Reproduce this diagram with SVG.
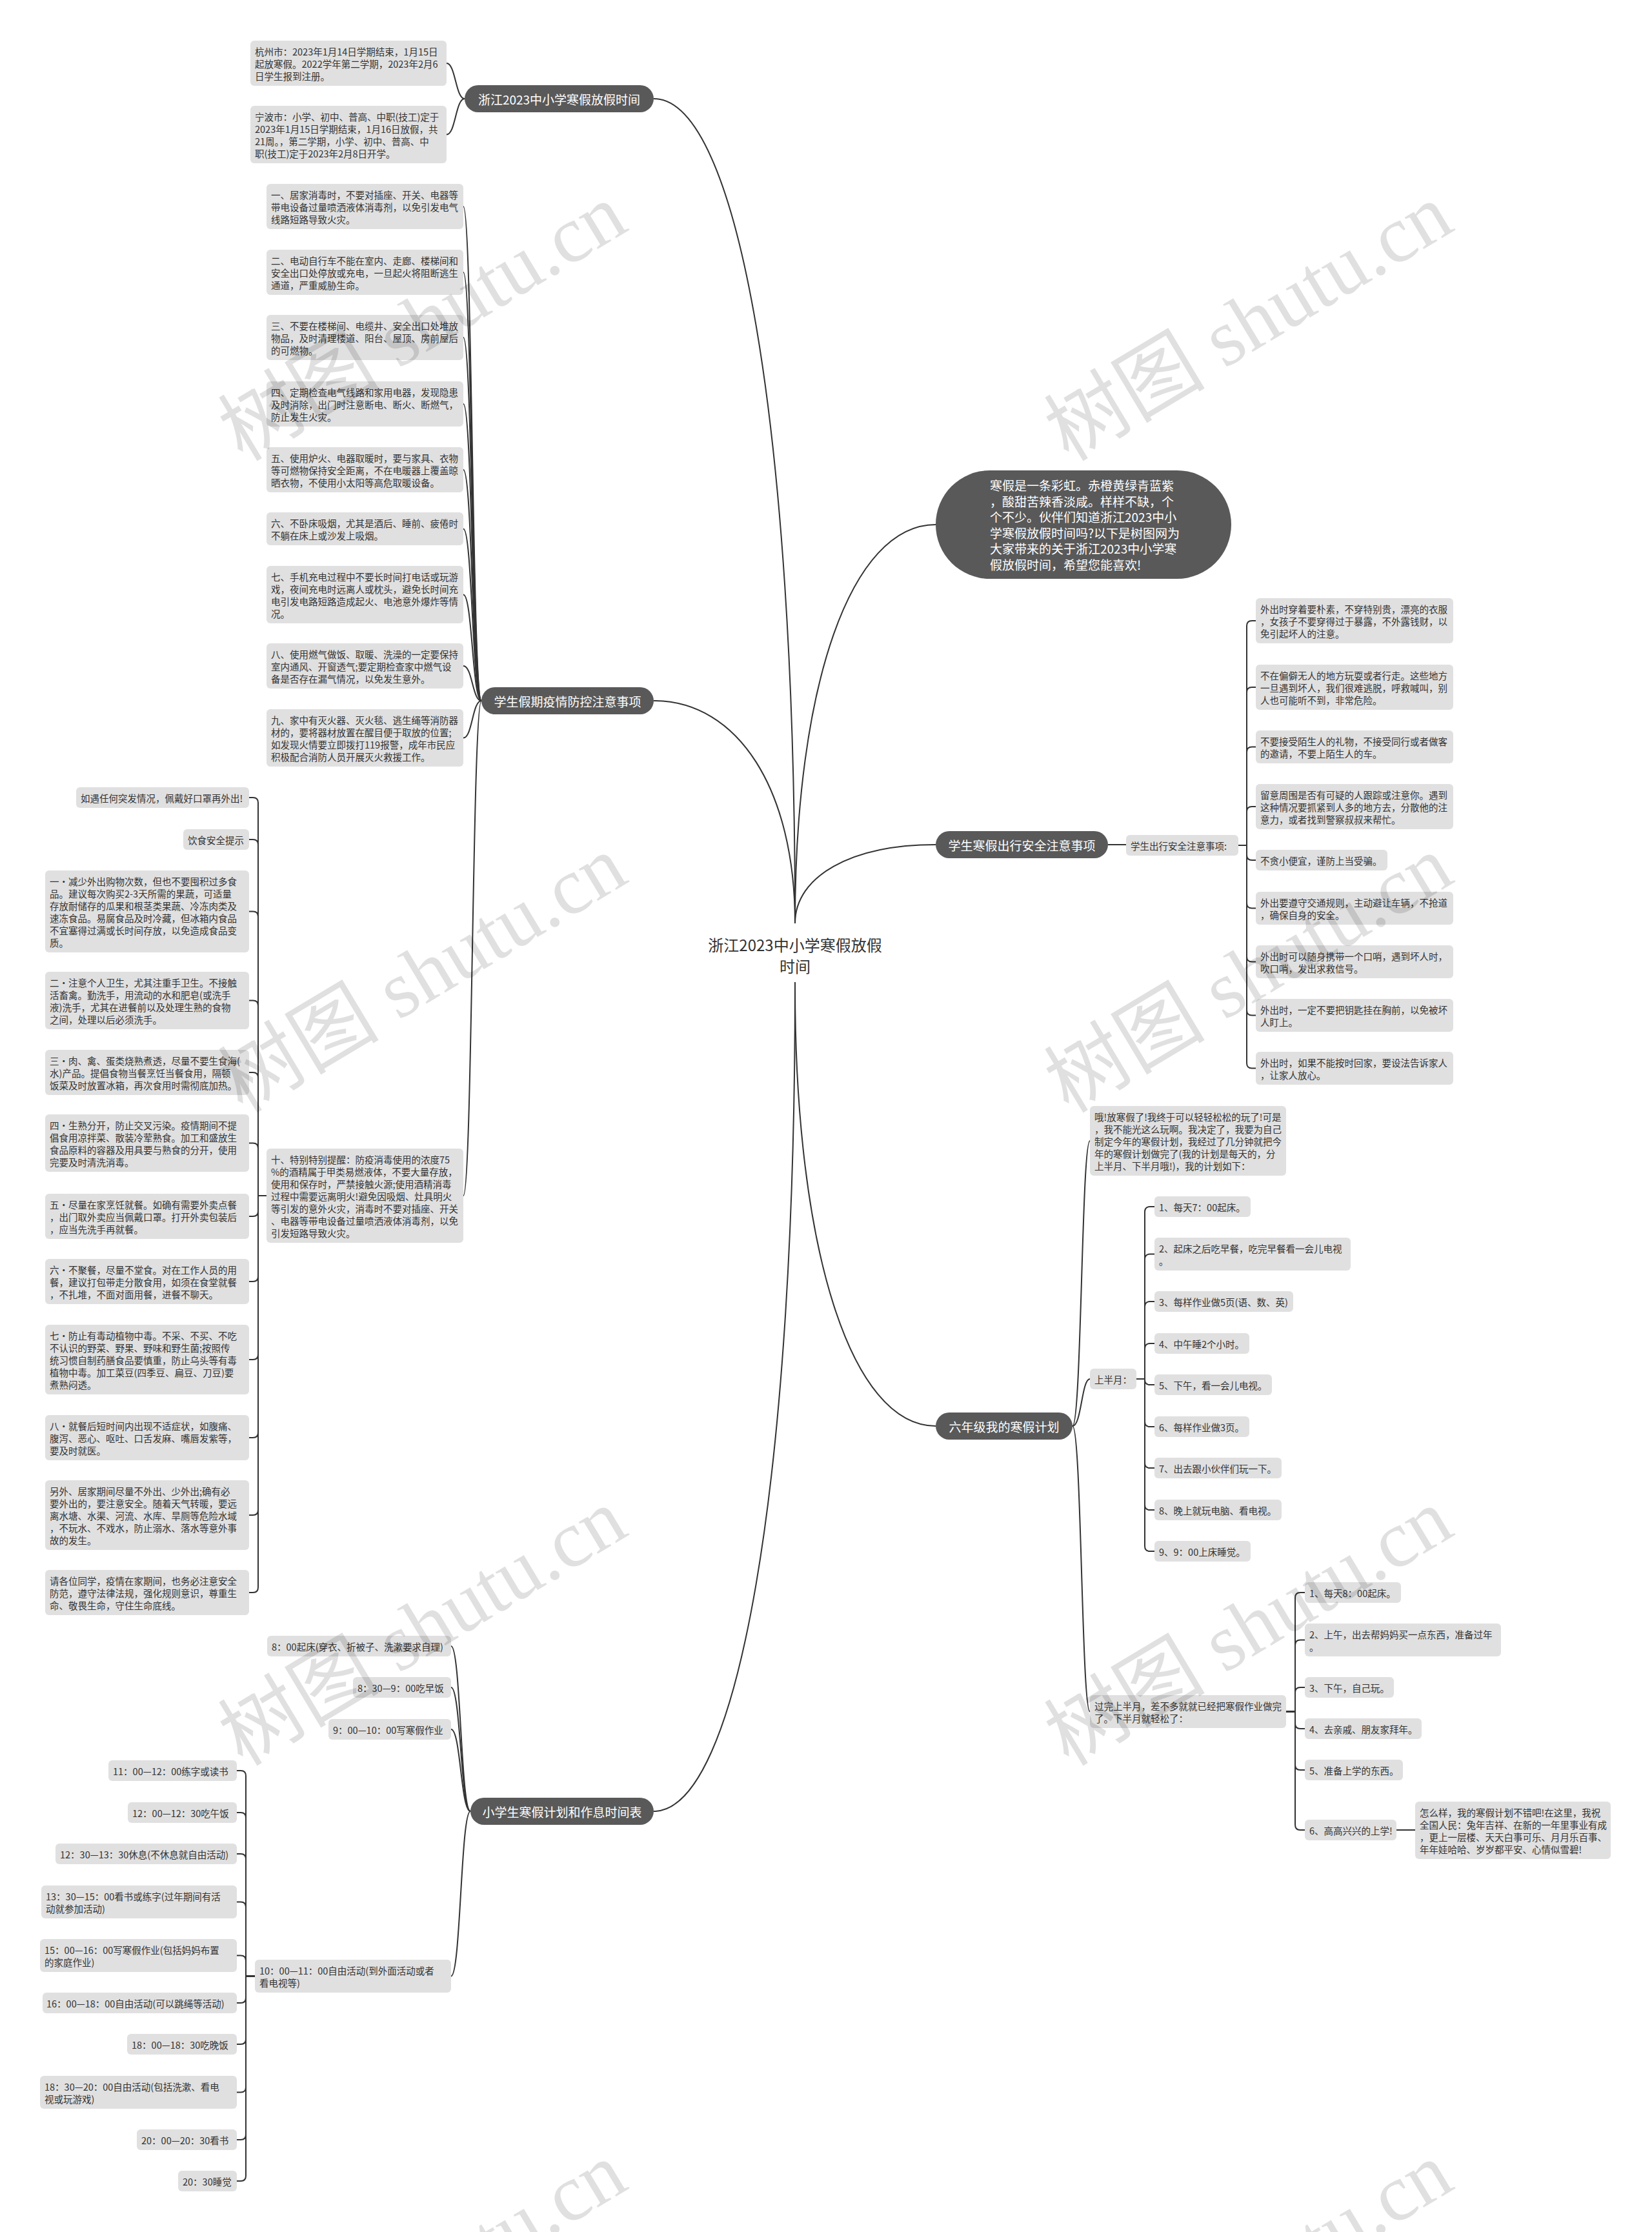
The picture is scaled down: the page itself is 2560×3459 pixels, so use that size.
<svg xmlns="http://www.w3.org/2000/svg" width="2560" height="3459" viewBox="0 0 2560 3459">
<style>
.n rect{fill:#e0e0e0}
.n text{font-family:"Noto Sans CJK SC","Liberation Sans",sans-serif;font-size:14.5px;fill:#333;dominant-baseline:central}
.p rect{fill:#595959}
.p text{font-family:"Noto Sans CJK SC","Liberation Sans",sans-serif;font-size:19px;fill:#fff;dominant-baseline:central;text-anchor:middle}
.c path{fill:none;stroke:#333;stroke-width:2}
.root text{font-family:"Noto Sans CJK SC","Liberation Sans",sans-serif;font-size:24px;fill:#333;dominant-baseline:central;text-anchor:middle}
.wm text{font-family:"Liberation Serif","Noto Sans CJK SC",serif;font-size:125px;fill:#000;fill-opacity:0.12;dominant-baseline:central;text-anchor:middle}
</style>
<rect width="2560" height="3459" fill="#fff"/>

<g class="c" id="connectors">
<path d="M1232,1431 C1232,664 1144,153 1013,153"/>
<path d="M1232,1431 C1232,1224 1144,1086 1013,1086"/>
<path d="M1232,1431 C1232,1060 1319,813 1450,813"/>
<path d="M1232,1431 C1232,1358 1319,1309 1450,1309"/>
<path d="M1232,1528 C1232,1937 1319,2210 1450,2210"/>
<path d="M1232,1528 C1232,2295 1144,2807 1013,2807"/>
<path d="M1232,1522 V1540"/>
<path d="M720,153 C706,153 706,98 692,98"/>
<path d="M720,153 C706,153 706,208.5 692,208.5"/>
<path d="M746,1086 C732,1086 732,320 718,320"/>
<path d="M746,1086 C732,1086 732,422 718,422"/>
<path d="M746,1086 C732,1086 732,523 718,523"/>
<path d="M746,1086 C732,1086 732,626 718,626"/>
<path d="M746,1086 C732,1086 732,728 718,728"/>
<path d="M746,1086 C732,1086 732,819.5 718,819.5"/>
<path d="M746,1086 C732,1086 732,921.5 718,921.5"/>
<path d="M746,1086 C732,1086 732,1032 718,1032"/>
<path d="M746,1086 C732,1086 732,1143.5 718,1143.5"/>
<path d="M746,1086 C732,1086 732,1853 718,1853"/>
<path d="M413,1853 H400 V1244 Q400,1236 392,1236 H386"/>
<path d="M413,1853 H400 V1309 Q400,1301 392,1301 H386"/>
<path d="M413,1853 H400 V1420.5 Q400,1412.5 392,1412.5 H386"/>
<path d="M413,1853 H400 V1558.5 Q400,1550.5 392,1550.5 H386"/>
<path d="M413,1853 H400 V1670 Q400,1662 392,1662 H386"/>
<path d="M413,1853 H400 V1779.5 Q400,1771.5 392,1771.5 H386"/>
<path d="M413,1853 H400 V1877 Q400,1885 392,1885 H386"/>
<path d="M413,1853 H400 V1978 Q400,1986 392,1986 H386"/>
<path d="M413,1853 H400 V2099 Q400,2107 392,2107 H386"/>
<path d="M413,1853 H400 V2220 Q400,2228 392,2228 H386"/>
<path d="M413,1853 H400 V2340 Q400,2348 392,2348 H386"/>
<path d="M413,1853 H400 V2460 Q400,2468 392,2468 H386"/>
<path d="M729,2807 C714,2807 714,2551 699,2551"/>
<path d="M729,2807 C714,2807 714,2615 699,2615"/>
<path d="M729,2807 C714,2807 714,2680 699,2680"/>
<path d="M729,2807 C714,2807 714,3062.5 699,3062.5"/>
<path d="M395,3062.5 H381 V2752 Q381,2744 373,2744 H367"/>
<path d="M395,3062.5 H381 V2817 Q381,2809 373,2809 H367"/>
<path d="M395,3062.5 H381 V2881 Q381,2873 373,2873 H367"/>
<path d="M395,3062.5 H381 V2955.5 Q381,2947.5 373,2947.5 H367"/>
<path d="M395,3062.5 H381 V3038.5 Q381,3030.5 373,3030.5 H367"/>
<path d="M395,3062.5 H381 V3096 Q381,3104 373,3104 H367"/>
<path d="M395,3062.5 H381 V3160 Q381,3168 373,3168 H367"/>
<path d="M395,3062.5 H381 V3234.5 Q381,3242.5 373,3242.5 H367"/>
<path d="M395,3062.5 H381 V3308 Q381,3316 373,3316 H367"/>
<path d="M395,3062.5 H381 V3372 Q381,3380 373,3380 H367"/>
<path d="M1717,1309 H1745"/>
<path d="M1919,1310 H1932 V970 Q1932,962 1940,962 H1946"/>
<path d="M1919,1310 H1932 V1073 Q1932,1065 1940,1065 H1946"/>
<path d="M1919,1310 H1932 V1165.5 Q1932,1157.5 1940,1157.5 H1946"/>
<path d="M1919,1310 H1932 V1258 Q1932,1250 1940,1250 H1946"/>
<path d="M1919,1310 H1932 V1325 Q1932,1333 1940,1333 H1946"/>
<path d="M1919,1310 H1932 V1399.5 Q1932,1407.5 1940,1407.5 H1946"/>
<path d="M1919,1310 H1932 V1482.5 Q1932,1490.5 1940,1490.5 H1946"/>
<path d="M1919,1310 H1932 V1565.5 Q1932,1573.5 1940,1573.5 H1946"/>
<path d="M1919,1310 H1932 V1647.5 Q1932,1655.5 1940,1655.5 H1946"/>
<path d="M1662,2210 C1676,2210 1676,1768 1689,1768"/>
<path d="M1662,2210 C1676,2210 1676,2137 1689,2137"/>
<path d="M1662,2210 C1676,2210 1676,2652.5 1689,2652.5"/>
<path d="M1761,2137 H1774 V1878 Q1774,1870 1782,1870 H1789"/>
<path d="M1761,2137 H1774 V1951.5 Q1774,1943.5 1782,1943.5 H1789"/>
<path d="M1761,2137 H1774 V2025 Q1774,2017 1782,2017 H1789"/>
<path d="M1761,2137 H1774 V2090 Q1774,2082 1782,2082 H1789"/>
<path d="M1761,2137 H1774 V2138 Q1774,2146 1782,2146 H1789"/>
<path d="M1761,2137 H1774 V2203 Q1774,2211 1782,2211 H1789"/>
<path d="M1761,2137 H1774 V2267 Q1774,2275 1782,2275 H1789"/>
<path d="M1761,2137 H1774 V2332 Q1774,2340 1782,2340 H1789"/>
<path d="M1761,2137 H1774 V2396 Q1774,2404 1782,2404 H1789"/>
<path d="M1993,2652.5 H2007 V2476 Q2007,2468 2015,2468 H2022"/>
<path d="M1993,2652.5 H2007 V2549.5 Q2007,2541.5 2015,2541.5 H2022"/>
<path d="M1993,2652.5 H2007 V2623 Q2007,2615 2015,2615 H2022"/>
<path d="M1993,2652.5 H2007 V2671 Q2007,2679 2015,2679 H2022"/>
<path d="M1993,2652.5 H2007 V2735 Q2007,2743 2015,2743 H2022"/>
<path d="M1993,2652.5 H2007 V2828 Q2007,2836 2015,2836 H2022"/>
<path d="M2164,2836 H2193"/>
</g>

<g id="root" class="root">
<rect x="1080" y="1440" width="304" height="78" fill="#fff"/>
<text><tspan x="1232" y="1463">浙江2023中小学寒假放假</tspan><tspan x="1232" y="1496">时间</tspan></text>
</g>

<g id="branch-a" class="p"><rect x="720" y="132" width="293" height="42" rx="21"/><text x="866.5" y="153">浙江2023中小学寒假放假时间</text></g>
<g id="a1" class="n"><rect x="388" y="63" width="304" height="70" rx="6"/><text><tspan x="395" y="79">杭州市：2023年1月14日学期结束，1月15日</tspan><tspan x="395" y="98">起放寒假。2022学年第二学期，2023年2月6</tspan><tspan x="395" y="117">日学生报到注册。</tspan></text></g>
<g id="a2" class="n"><rect x="388" y="164" width="304" height="89" rx="6"/><text><tspan x="395" y="180">宁波市：小学、初中、普高、中职(技工)定于</tspan><tspan x="395" y="199">2023年1月15日学期结束，1月16日放假，共</tspan><tspan x="395" y="218">21周。，第二学期，小学、初中、普高、中</tspan><tspan x="395" y="237">职(技工)定于2023年2月8日开学。</tspan></text></g>

<g id="branch-b" class="p"><rect x="746" y="1065" width="267" height="42" rx="21"/><text x="879.5" y="1086">学生假期疫情防控注意事项</text></g>
<g id="b1" class="n"><rect x="413" y="285" width="305" height="70" rx="6"/><text><tspan x="420" y="301">一、居家消毒时，不要对插座、开关、电器等</tspan><tspan x="420" y="320">带电设备过量喷洒液体消毒剂，以免引发电气</tspan><tspan x="420" y="339">线路短路导致火灾。</tspan></text></g>
<g id="b2" class="n"><rect x="413" y="387" width="305" height="70" rx="6"/><text><tspan x="420" y="403">二、电动自行车不能在室内、走廊、楼梯间和</tspan><tspan x="420" y="422">安全出口处停放或充电，一旦起火将阻断逃生</tspan><tspan x="420" y="441">通道，严重威胁生命。</tspan></text></g>
<g id="b3" class="n"><rect x="413" y="488" width="305" height="70" rx="6"/><text><tspan x="420" y="504">三、不要在楼梯间、电缆井、安全出口处堆放</tspan><tspan x="420" y="523">物品，及时清理楼道、阳台、屋顶、房前屋后</tspan><tspan x="420" y="542">的可燃物。</tspan></text></g>
<g id="b4" class="n"><rect x="413" y="591" width="305" height="70" rx="6"/><text><tspan x="420" y="607">四、定期检查电气线路和家用电器，发现隐患</tspan><tspan x="420" y="626">及时消除，出门时注意断电、断火、断燃气，</tspan><tspan x="420" y="645">防止发生火灾。</tspan></text></g>
<g id="b5" class="n"><rect x="413" y="693" width="305" height="70" rx="6"/><text><tspan x="420" y="709">五、使用炉火、电器取暖时，要与家具、衣物</tspan><tspan x="420" y="728">等可燃物保持安全距离，不在电暖器上覆盖晾</tspan><tspan x="420" y="747">晒衣物，不使用小太阳等高危取暖设备。</tspan></text></g>
<g id="b6" class="n"><rect x="413" y="794" width="305" height="51" rx="6"/><text><tspan x="420" y="810">六、不卧床吸烟，尤其是酒后、睡前、疲倦时</tspan><tspan x="420" y="829">不躺在床上或沙发上吸烟。</tspan></text></g>
<g id="b7" class="n"><rect x="413" y="877" width="305" height="89" rx="6"/><text><tspan x="420" y="893">七、手机充电过程中不要长时间打电话或玩游</tspan><tspan x="420" y="912">戏，夜间充电时远离人或枕头，避免长时间充</tspan><tspan x="420" y="931">电引发电路短路造成起火、电池意外爆炸等情</tspan><tspan x="420" y="950">况。</tspan></text></g>
<g id="b8" class="n"><rect x="413" y="997" width="305" height="70" rx="6"/><text><tspan x="420" y="1013">八、使用燃气做饭、取暖、洗澡的一定要保持</tspan><tspan x="420" y="1032">室内通风、开窗透气;要定期检查家中燃气设</tspan><tspan x="420" y="1051">备是否存在漏气情况，以免发生意外。</tspan></text></g>
<g id="b9" class="n"><rect x="413" y="1099" width="305" height="89" rx="6"/><text><tspan x="420" y="1115">九、家中有灭火器、灭火毯、逃生绳等消防器</tspan><tspan x="420" y="1134">材的，要将器材放置在醒目便于取放的位置;</tspan><tspan x="420" y="1153">如发现火情要立即拨打119报警，成年市民应</tspan><tspan x="420" y="1172">积极配合消防人员开展灭火救援工作。</tspan></text></g>
<g id="b10" class="n"><rect x="413" y="1780" width="305" height="146" rx="6"/><text><tspan x="420" y="1796">十、特别特别提醒：防疫消毒使用的浓度75</tspan><tspan x="420" y="1815">%的酒精属于甲类易燃液体，不要大量存放，</tspan><tspan x="420" y="1834">使用和保存时，严禁接触火源;使用酒精消毒</tspan><tspan x="420" y="1853">过程中需要远离明火!避免因吸烟、灶具明火</tspan><tspan x="420" y="1872">等引发的意外火灾，消毒时不要对插座、开关</tspan><tspan x="420" y="1891">、电器等带电设备过量喷洒液体消毒剂，以免</tspan><tspan x="420" y="1910">引发短路导致火灾。</tspan></text></g>

<g id="c1" class="n"><rect x="118" y="1220" width="268" height="32" rx="6"/><text x="125" y="1236">如遇任何突发情况，佩戴好口罩再外出!</text></g>
<g id="c2" class="n"><rect x="284" y="1285" width="102" height="32" rx="6"/><text x="291" y="1301">饮食安全提示</text></g>
<g id="c3" class="n"><rect x="70" y="1349" width="316" height="127" rx="6"/><text><tspan x="77" y="1365">一·减少外出购物次数，但也不要囤积过多食</tspan><tspan x="77" y="1384">品。建议每次购买2-3天所需的果蔬，可适量</tspan><tspan x="77" y="1403">存放耐储存的瓜果和根茎类果蔬、冷冻肉类及</tspan><tspan x="77" y="1422">速冻食品。易腐食品及时冷藏，但冰箱内食品</tspan><tspan x="77" y="1441">不宜塞得过满或长时间存放，以免造成食品变</tspan><tspan x="77" y="1460">质。</tspan></text></g>
<g id="c4" class="n"><rect x="70" y="1506" width="316" height="89" rx="6"/><text><tspan x="77" y="1522">二·注意个人卫生，尤其注重手卫生。不接触</tspan><tspan x="77" y="1541">活畜禽。勤洗手，用流动的水和肥皂(或洗手</tspan><tspan x="77" y="1560">液)洗手，尤其在进餐前以及处理生熟的食物</tspan><tspan x="77" y="1579">之间，处理以后必须洗手。</tspan></text></g>
<g id="c5" class="n"><rect x="70" y="1627" width="316" height="70" rx="6"/><text><tspan x="77" y="1643">三·肉、禽、蛋类烧熟煮透，尽量不要生食海(</tspan><tspan x="77" y="1662">水)产品。提倡食物当餐烹饪当餐食用，隔顿</tspan><tspan x="77" y="1681">饭菜及时放置冰箱，再次食用时需彻底加热。</tspan></text></g>
<g id="c6" class="n"><rect x="70" y="1727" width="316" height="89" rx="6"/><text><tspan x="77" y="1743">四·生熟分开，防止交叉污染。疫情期间不提</tspan><tspan x="77" y="1762">倡食用凉拌菜、散装冷荤熟食。加工和盛放生</tspan><tspan x="77" y="1781">食品原料的容器及用具要与熟食的分开，使用</tspan><tspan x="77" y="1800">完要及时清洗消毒。</tspan></text></g>
<g id="c7" class="n"><rect x="70" y="1850" width="316" height="70" rx="6"/><text><tspan x="77" y="1866">五·尽量在家烹饪就餐。如确有需要外卖点餐</tspan><tspan x="77" y="1885">，出门取外卖应当佩戴口罩。打开外卖包装后</tspan><tspan x="77" y="1904">，应当先洗手再就餐。</tspan></text></g>
<g id="c8" class="n"><rect x="70" y="1951" width="316" height="70" rx="6"/><text><tspan x="77" y="1967">六·不聚餐，尽量不堂食。对在工作人员的用</tspan><tspan x="77" y="1986">餐，建议打包带走分散食用，如须在食堂就餐</tspan><tspan x="77" y="2005">，不扎堆，不面对面用餐，进餐不聊天。</tspan></text></g>
<g id="c9" class="n"><rect x="70" y="2053" width="316" height="108" rx="6"/><text><tspan x="77" y="2069">七·防止有毒动植物中毒。不采、不买、不吃</tspan><tspan x="77" y="2088">不认识的野菜、野果、野味和野生菌;按照传</tspan><tspan x="77" y="2107">统习惯自制药膳食品要慎重，防止乌头等有毒</tspan><tspan x="77" y="2126">植物中毒。加工菜豆(四季豆、扁豆、刀豆)要</tspan><tspan x="77" y="2145">煮熟闷透。</tspan></text></g>
<g id="c10" class="n"><rect x="70" y="2193" width="316" height="70" rx="6"/><text><tspan x="77" y="2209">八·就餐后短时间内出现不适症状，如腹痛、</tspan><tspan x="77" y="2228">腹泻、恶心、呕吐、口舌发麻、嘴唇发紫等，</tspan><tspan x="77" y="2247">要及时就医。</tspan></text></g>
<g id="c11" class="n"><rect x="70" y="2294" width="316" height="108" rx="6"/><text><tspan x="77" y="2310">另外、居家期间尽量不外出、少外出;确有必</tspan><tspan x="77" y="2329">要外出的，要注意安全。随着天气转暖，要远</tspan><tspan x="77" y="2348">离水塘、水渠、河流、水库、旱厕等危险水域</tspan><tspan x="77" y="2367">，不玩水、不戏水，防止溺水、落水等意外事</tspan><tspan x="77" y="2386">故的发生。</tspan></text></g>
<g id="c12" class="n"><rect x="70" y="2433" width="316" height="70" rx="6"/><text><tspan x="77" y="2449">请各位同学，疫情在家期间，也务必注意安全</tspan><tspan x="77" y="2468">防范，遵守法律法规，强化规则意识，尊重生</tspan><tspan x="77" y="2487">命、敬畏生命，守住生命底线。</tspan></text></g>

<g id="branch-d" class="p"><rect x="729" y="2786" width="284" height="42" rx="21"/><text x="871" y="2807">小学生寒假计划和作息时间表</text></g>
<g id="d1" class="n"><rect x="414" y="2535" width="285" height="32" rx="6"/><text x="421" y="2551">8：00起床(穿衣、折被子、洗漱要求自理)</text></g>
<g id="d2" class="n"><rect x="547" y="2599" width="152" height="32" rx="6"/><text x="554" y="2615">8：30—9：00吃早饭</text></g>
<g id="d3" class="n"><rect x="509" y="2664" width="190" height="32" rx="6"/><text x="516" y="2680">9：00—10：00写寒假作业</text></g>
<g id="d4" class="n"><rect x="395" y="3037" width="304" height="51" rx="6"/><text><tspan x="402" y="3053">10：00—11：00自由活动(到外面活动或者</tspan><tspan x="402" y="3072">看电视等)</tspan></text></g>
<g id="e1" class="n"><rect x="168" y="2728" width="199" height="32" rx="6"/><text x="175" y="2744">11：00—12：00练字或读书</text></g>
<g id="e2" class="n"><rect x="198" y="2793" width="169" height="32" rx="6"/><text x="205" y="2809">12：00—12：30吃午饭</text></g>
<g id="e3" class="n"><rect x="86" y="2857" width="281" height="32" rx="6"/><text x="93" y="2873">12：30—13：30休息(不休息就自由活动)</text></g>
<g id="e4" class="n"><rect x="64" y="2922" width="303" height="51" rx="6"/><text><tspan x="71" y="2938">13：30—15：00看书或练字(过年期间有活</tspan><tspan x="71" y="2957">动就参加活动)</tspan></text></g>
<g id="e5" class="n"><rect x="62" y="3005" width="305" height="51" rx="6"/><text><tspan x="69" y="3021">15：00—16：00写寒假作业(包括妈妈布置</tspan><tspan x="69" y="3040">的家庭作业)</tspan></text></g>
<g id="e6" class="n"><rect x="66" y="3088" width="301" height="32" rx="6"/><text x="72" y="3104">16：00—18：00自由活动(可以跳绳等活动)</text></g>
<g id="e7" class="n"><rect x="197" y="3152" width="170" height="32" rx="6"/><text x="204" y="3168">18：00—18：30吃晚饭</text></g>
<g id="e8" class="n"><rect x="62" y="3217" width="305" height="51" rx="6"/><text><tspan x="69" y="3233">18：30—20：00自由活动(包括洗漱、看电</tspan><tspan x="69" y="3252">视或玩游戏)</tspan></text></g>
<g id="e9" class="n"><rect x="212" y="3300" width="155" height="32" rx="6"/><text x="219" y="3316">20：00—20：30看书</text></g>
<g id="e10" class="n"><rect x="276" y="3364" width="91" height="32" rx="6"/><text x="283" y="3380">20：30睡觉</text></g>

<g id="intro" class="p"><rect x="1450" y="729" width="458" height="168" rx="84"/><text style="text-anchor:start"><tspan x="1534" y="751">寒假是一条彩虹。赤橙黄绿青蓝紫</tspan><tspan x="1534" y="775.6">，酸甜苦辣香淡咸。样样不缺，个</tspan><tspan x="1534" y="800.2">个不少。伙伴们知道浙江2023中小</tspan><tspan x="1534" y="824.8">学寒假放假时间吗?以下是树图网为</tspan><tspan x="1534" y="849.4">大家带来的关于浙江2023中小学寒</tspan><tspan x="1534" y="874">假放假时间，希望您能喜欢!</tspan></text></g>

<g id="branch-f" class="p"><rect x="1450" y="1288" width="267" height="42" rx="21"/><text x="1583.5" y="1309">学生寒假出行安全注意事项</text></g>
<g id="f0" class="n"><rect x="1745" y="1294" width="174" height="32" rx="6"/><text x="1752" y="1310">学生出行安全注意事项:</text></g>
<g id="g1" class="n"><rect x="1946" y="927" width="306" height="70" rx="6"/><text><tspan x="1953" y="943">外出时穿着要朴素，不穿特别贵，漂亮的衣服</tspan><tspan x="1953" y="962">，女孩子不要穿得过于暴露，不外露钱财，以</tspan><tspan x="1953" y="981">免引起坏人的注意。</tspan></text></g>
<g id="g2" class="n"><rect x="1946" y="1030" width="306" height="70" rx="6"/><text><tspan x="1953" y="1046">不在偏僻无人的地方玩耍或者行走。这些地方</tspan><tspan x="1953" y="1065">一旦遇到坏人，我们很难逃脱，呼救喊叫，别</tspan><tspan x="1953" y="1084">人也可能听不到，非常危险。</tspan></text></g>
<g id="g3" class="n"><rect x="1946" y="1132" width="306" height="51" rx="6"/><text><tspan x="1953" y="1148">不要接受陌生人的礼物，不接受同行或者做客</tspan><tspan x="1953" y="1167">的邀请，不要上陌生人的车。</tspan></text></g>
<g id="g4" class="n"><rect x="1946" y="1215" width="306" height="70" rx="6"/><text><tspan x="1953" y="1231">留意周围是否有可疑的人跟踪或注意你。遇到</tspan><tspan x="1953" y="1250">这种情况要抓紧到人多的地方去，分散他的注</tspan><tspan x="1953" y="1269">意力，或者找到警察叔叔来帮忙。</tspan></text></g>
<g id="g5" class="n"><rect x="1946" y="1317" width="204" height="32" rx="6"/><text x="1953" y="1333">不贪小便宜，谨防上当受骗。</text></g>
<g id="g6" class="n"><rect x="1946" y="1382" width="306" height="51" rx="6"/><text><tspan x="1953" y="1398">外出要遵守交通规则，主动避让车辆，不抢道</tspan><tspan x="1953" y="1417">，确保自身的安全。</tspan></text></g>
<g id="g7" class="n"><rect x="1946" y="1465" width="306" height="51" rx="6"/><text><tspan x="1953" y="1481">外出时可以随身携带一个口哨，遇到坏人时，</tspan><tspan x="1953" y="1500">吹口哨，发出求救信号。</tspan></text></g>
<g id="g8" class="n"><rect x="1946" y="1548" width="306" height="51" rx="6"/><text><tspan x="1953" y="1564">外出时，一定不要把钥匙挂在胸前，以免被坏</tspan><tspan x="1953" y="1583">人盯上。</tspan></text></g>
<g id="g9" class="n"><rect x="1946" y="1630" width="306" height="51" rx="6"/><text><tspan x="1953" y="1646">外出时，如果不能按时回家，要设法告诉家人</tspan><tspan x="1953" y="1665">，让家人放心。</tspan></text></g>

<g id="branch-h" class="p"><rect x="1450" y="2189" width="212" height="42" rx="21"/><text x="1556" y="2210">六年级我的寒假计划</text></g>
<g id="h1" class="n"><rect x="1689" y="1714" width="304" height="108" rx="6"/><text><tspan x="1696" y="1730">哦!放寒假了!我终于可以轻轻松松的玩了!可是</tspan><tspan x="1696" y="1749">，我不能光这么玩啊。我决定了，我要为自己</tspan><tspan x="1696" y="1768">制定今年的寒假计划，我经过了几分钟就把今</tspan><tspan x="1696" y="1787">年的寒假计划做完了(我的计划是每天的，分</tspan><tspan x="1696" y="1806">上半月、下半月哦!)，我的计划如下：</tspan></text></g>
<g id="h2" class="n"><rect x="1689" y="2121" width="72" height="32" rx="6"/><text x="1696" y="2137">上半月：</text></g>
<g id="i1" class="n"><rect x="1789" y="1854" width="149" height="32" rx="6"/><text x="1796" y="1870">1、每天7：00起床。</text></g>
<g id="i2" class="n"><rect x="1789" y="1918" width="304" height="51" rx="6"/><text><tspan x="1796" y="1934">2、起床之后吃早餐，吃完早餐看一会儿电视</tspan><tspan x="1796" y="1953">。</tspan></text></g>
<g id="i3" class="n"><rect x="1789" y="2001" width="215" height="32" rx="6"/><text x="1796" y="2017">3、每样作业做5页(语、数、英)</text></g>
<g id="i4" class="n"><rect x="1789" y="2066" width="147" height="32" rx="6"/><text x="1796" y="2082">4、中午睡2个小时。</text></g>
<g id="i5" class="n"><rect x="1789" y="2130" width="182" height="32" rx="6"/><text x="1796" y="2146">5、下午，看一会儿电视。</text></g>
<g id="i6" class="n"><rect x="1789" y="2195" width="147" height="32" rx="6"/><text x="1796" y="2211">6、每样作业做3页。</text></g>
<g id="i7" class="n"><rect x="1789" y="2259" width="197" height="32" rx="6"/><text x="1796" y="2275">7、出去跟小伙伴们玩一下。</text></g>
<g id="i8" class="n"><rect x="1789" y="2324" width="197" height="32" rx="6"/><text x="1796" y="2340">8、晚上就玩电脑、看电视。</text></g>
<g id="i9" class="n"><rect x="1789" y="2388" width="149" height="32" rx="6"/><text x="1796" y="2404">9、9：00上床睡觉。</text></g>
<g id="h3" class="n"><rect x="1689" y="2627" width="304" height="51" rx="6"/><text><tspan x="1696" y="2643">过完上半月，差不多就就已经把寒假作业做完</tspan><tspan x="1696" y="2662">了。下半月就轻松了：</tspan></text></g>
<g id="j1" class="n"><rect x="2022" y="2452" width="149" height="32" rx="6"/><text x="2029" y="2468">1、每天8：00起床。</text></g>
<g id="j2" class="n"><rect x="2022" y="2516" width="304" height="51" rx="6"/><text><tspan x="2029" y="2532">2、上午，出去帮妈妈买一点东西，准备过年</tspan><tspan x="2029" y="2551">。</tspan></text></g>
<g id="j3" class="n"><rect x="2022" y="2599" width="138" height="32" rx="6"/><text x="2029" y="2615">3、下午，自己玩。</text></g>
<g id="j4" class="n"><rect x="2022" y="2663" width="181" height="32" rx="6"/><text x="2029" y="2679">4、去亲戚、朋友家拜年。</text></g>
<g id="j5" class="n"><rect x="2022" y="2727" width="152" height="32" rx="6"/><text x="2029" y="2743">5、准备上学的东西。</text></g>
<g id="j6" class="n"><rect x="2022" y="2820" width="142" height="32" rx="6"/><text x="2029" y="2836">6、高高兴兴的上学!</text></g>
<g id="k1" class="n"><rect x="2193" y="2792" width="303" height="89" rx="6"/><text><tspan x="2200" y="2808">怎么样，我的寒假计划不错吧!在这里，我祝</tspan><tspan x="2200" y="2827">全国人民：兔年吉祥、在新的一年里事业有成</tspan><tspan x="2200" y="2846">，更上一层楼、天天白事可乐、月月乐百事、</tspan><tspan x="2200" y="2865">年年娃哈哈、岁岁都平安、心情似雪碧!</tspan></text></g>

<g id="watermark" class="wm">
<text x="655" y="500" transform="rotate(-31 655 500)">树图 shutu.cn</text>
<text x="1935" y="500" transform="rotate(-31 1935 500)">树图 shutu.cn</text>
<text x="655" y="1510" transform="rotate(-31 655 1510)">树图 shutu.cn</text>
<text x="1935" y="1510" transform="rotate(-31 1935 1510)">树图 shutu.cn</text>
<text x="655" y="2522" transform="rotate(-31 655 2522)">树图 shutu.cn</text>
<text x="1935" y="2522" transform="rotate(-31 1935 2522)">树图 shutu.cn</text>
<text x="655" y="3535" transform="rotate(-31 655 3535)">树图 shutu.cn</text>
<text x="1935" y="3535" transform="rotate(-31 1935 3535)">树图 shutu.cn</text>
</g>
</svg>
